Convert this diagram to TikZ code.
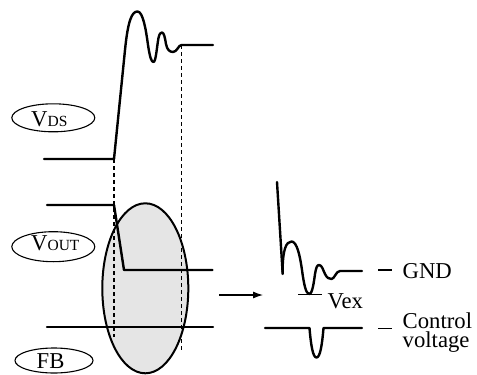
\documentclass[tikz,border=0pt]{standalone}
\usepackage{fontspec}
\setmainfont{Liberation Serif}
\usetikzlibrary{arrows.meta,shapes.geometric}
\newcommand\bigfs{\fontsize{22.7pt}{19pt}\selectfont}
\newcommand\subfs{\fontsize{15.5pt}{16pt}\selectfont}
\begin{document}
\begin{tikzpicture}[x=1pt,y=-1pt,
  wave/.style={line width=2.4pt,line join=round,line cap=round},
  guide/.style={line width=1.1pt,dash pattern=on 4pt off 3pt},
  lbl/.style={draw,line width=1.1pt,ellipse,inner sep=0pt},
  txt/.style={inner sep=0pt,anchor=base west,font=\bigfs},
  tick/.style={line width=1.1pt}]
\useasboundingbox (0,0) rectangle (477,375);
% shaded ellipse
\draw[line width=2pt,fill={rgb,255:red,229;green,229;blue,229}] (145.3,288.3) ellipse [x radius=43pt,y radius=85pt];
% dashed guides
\draw[guide] (114,159) -- (114,337);
\draw[guide] (181.5,45) -- (181.5,352);
% V_DS waveform
\draw[wave] (44,159) -- (114,159) -- (125,50)
  .. controls (128,20) and (132,11.5) .. (137.5,11.5)
  .. controls (143,11.5) and (146,30) .. (148,45)
  .. controls (150,58) and (151.5,62) .. (153.5,62)
  .. controls (156,62) and (157,45) .. (158.5,38)
  .. controls (159.5,33.5) and (160.5,32.5) .. (162,32.5)
  .. controls (164,32.5) and (165,38) .. (166,44)
  .. controls (167,49.5) and (169.5,52) .. (173,52)
  .. controls (177,52) and (178.5,45) .. (181.5,45) -- (213,45);
% V_OUT waveform
\draw[wave] (47,205) -- (114,205) -- (124,270) -- (212.5,270);
% FB
\draw[wave] (47,327) -- (213,327);
% label ellipses
\node[lbl,minimum width=83pt,minimum height=28pt] (eds) at (53.3,117.8) {};
\node[txt] (tds) at (31,126.7) {V\subfs DS};
\node[lbl,minimum width=83pt,minimum height=30pt] (eout) at (53.3,246.7) {};
\node[txt] (tout) at (31,250) {V\subfs OUT};
\node[lbl,minimum width=78pt,minimum height=25pt] (efb) at (54,360.5) {};
\node[txt] (tfb) at (36.5,368.3) {FB};
% arrow
\coordinate (a1) at (219,295);
\coordinate (a2) at (263,295);
\draw[line width=1.1pt,-{Latex[length=10pt,width=7pt]}] (a1) -- (a2);
% right waveform
\draw[wave] (277,182) -- (282.7,274);
\draw[wave] (282.6,272)
  .. controls (282.6,250) and (286,241.5) .. (291.5,241.5)
  .. controls (297,241.5) and (300,256) .. (302,270)
  .. controls (304,285) and (306,294) .. (309.3,294)
  .. controls (312.5,294) and (314,281) .. (315,274)
  .. controls (316,268) and (317,265) .. (319,265)
  .. controls (322,265) and (323,270) .. (325,274)
  .. controls (327,278) and (329,279) .. (331.5,279)
  .. controls (334.5,279) and (336,271) .. (340,271) -- (362,271);
\coordinate (vx1) at (298,294.5);
\coordinate (vx2) at (321.5,294.5);
\draw[tick,line width=1.3pt] (vx1) -- (vx2);
\node[txt] (vex) at (327.5,308.8) {Vex};
% control voltage
\draw[wave] (265,328) -- (309.5,328)
  .. controls (311,346) and (313,357.5) .. (316.5,357.5)
  .. controls (320,357.5) and (322,346) .. (323.5,328) -- (362,328);
% legend ticks and text
\coordinate (g1) at (378,270);
\coordinate (g2) at (392,270);
\draw[tick] (g1) -- (g2);
\node[txt] (gnd) at (402.5,278.3) {GND};
\coordinate (c1) at (378,328.5);
\coordinate (c2) at (392,328.5);
\draw[tick] (c1) -- (c2);
\node[txt] (ctl) at (402.5,328.3) {Control};
\node[txt] (volt) at (402.5,347.3) {voltage};
\end{tikzpicture}
\end{document}
